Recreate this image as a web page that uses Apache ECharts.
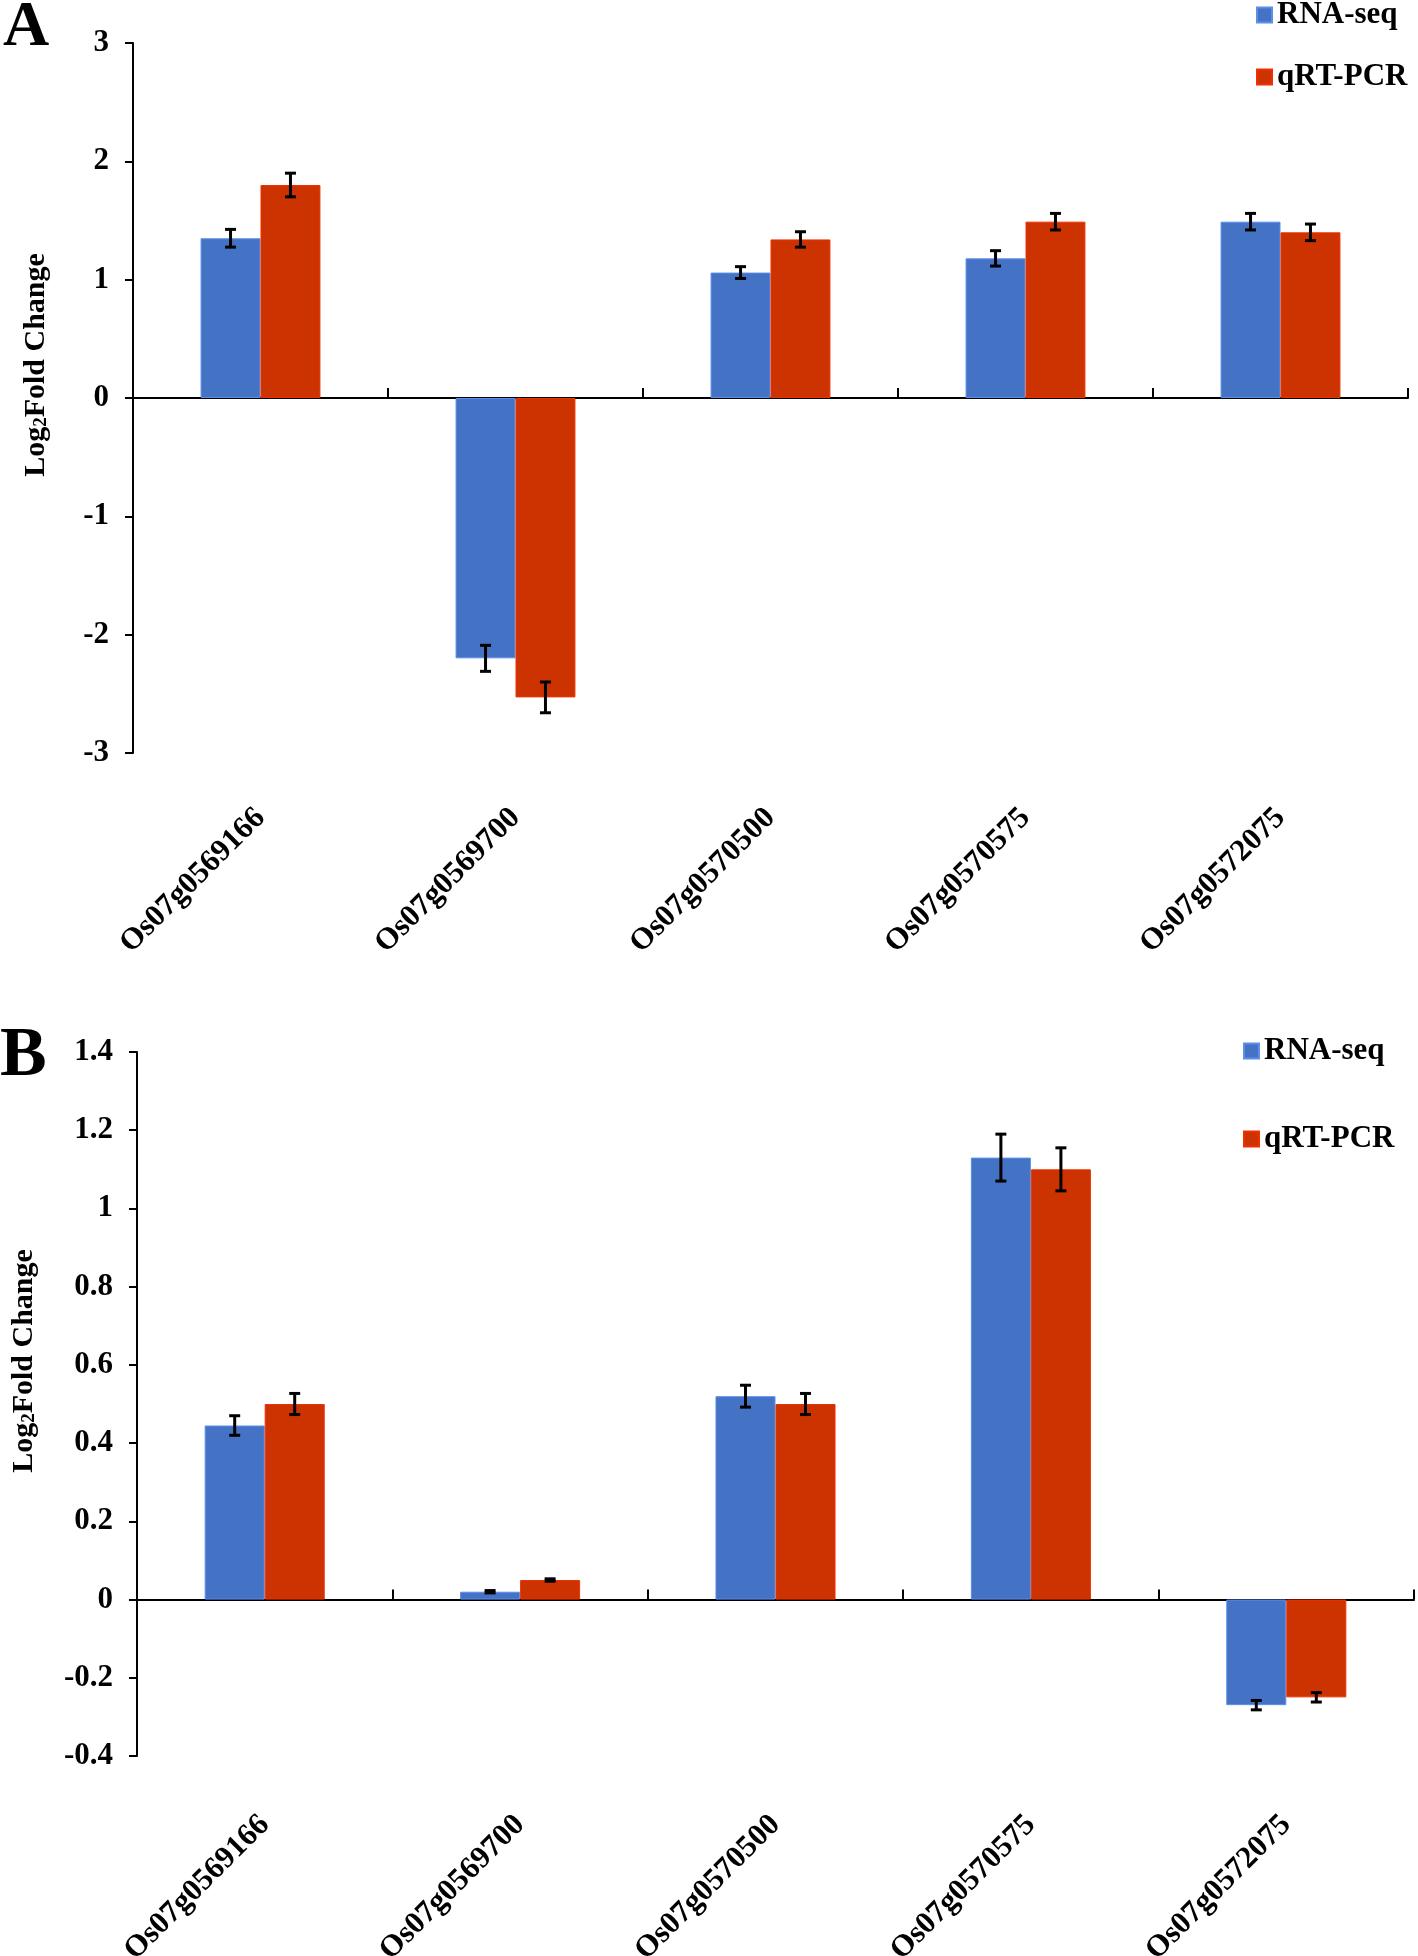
<!DOCTYPE html>
<html lang="en">
<head>
	<meta charset="UTF-8">
	<title>RNA-seq vs qRT-PCR</title>
	<style type="text/css">
	body,html{
		width: 100%;
		height: 100%;
		margin: 0;
		padding: 0;
		background: #fff;
	}
	#container{
		width: 1418px;
		height: 1956px;
	}
	</style>
</head>
<body>
	<div id="container"></div>
<script type="text/javascript" src="https://cdn.jsdelivr.net/npm/echarts@6/dist/echarts.min.js"></script>
<script type="text/javascript">
	// genes, same in both panels
	var genes = ['Os07g0569166', 'Os07g0569700', 'Os07g0570500', 'Os07g0570575', 'Os07g0572075'];
	var seriesNames = ['RNA-seq', 'qRT-PCR'];

	// panel A
	var rnaA = [1.35, -2.2, 1.06, 1.18, 1.49];
	var rnaErrA = [0.075, 0.11, 0.05, 0.065, 0.07];
	var pcrA = [1.8, -2.53, 1.34, 1.49, 1.4];
	var pcrErrA = [0.1, 0.13, 0.065, 0.07, 0.07];
	var ticksA = [-3, 3, 1];   // min, max, interval

	// panel B
	var rnaB = [0.445, 0.02, 0.52, 1.13, -0.27];
	var rnaErrB = [0.025, 0.003, 0.028, 0.06, 0.012];
	var pcrB = [0.5, 0.05, 0.5, 1.1, -0.25];
	var pcrErrB = [0.027, 0.003, 0.027, 0.055, 0.012];
	var ticksB = [-0.4, 1.4, 0.2];

	var FONT = 'Liberation Serif';
	var BLUE = '#4472C4', RED = '#CC3300';
	var GAP = 0.53; // category gap ratio

	var txt = function (size) {
		return { fontFamily: FONT, fontWeight: 'bold', fontSize: size, color: '#000' };
	};

	// error bars drawn at the centre of each bar of the group
	var errorRender = function (side) {
		return function (params, api) {
			var cat = api.value(0);
			var lo = api.coord([cat, api.value(1)]);
			var hi = api.coord([cat, api.value(2)]);
			var band = api.size([1, 0])[0];
			var barW = band * (1 - GAP) / 2;
			var x = lo[0] + side * barW / 2;
			var cap = 5.5;
			var st = { stroke: '#000', lineWidth: 3 };
			return {
				type: 'group',
				children: [
					{ type: 'line', shape: { x1: x, y1: lo[1], x2: x, y2: hi[1] }, style: st },
					{ type: 'line', shape: { x1: x - cap, y1: lo[1], x2: x + cap, y2: lo[1] }, style: st },
					{ type: 'line', shape: { x1: x - cap, y1: hi[1], x2: x + cap, y2: hi[1] }, style: st }
				]
			};
		};
	};

	var errData = function (v, e) {
		return v.map(function (d, i) { return [i, d - e[i], d + e[i]]; });
	};

	var yName = {
		name: '{b|Log}{s|2}{b|Fold Change}',
		nameLocation: 'middle',
		nameRotate: 90,
		nameTextStyle: {
			rich: {
				b: txt(30),
				s: { fontFamily: FONT, fontWeight: 'bold', fontSize: 19, color: '#000', verticalAlign: 'bottom', lineHeight: 13 }
			}
		}
	};

	var makeY = function (idx, t, gap, pad) {
		return Object.assign({}, yName, {
			gridIndex: idx,
			type: 'value',
			min: t[0], max: t[1], interval: t[2],
			nameGap: gap,
			nameTextStyle: Object.assign({}, yName.nameTextStyle, { padding: [0, 0, 0, pad] }),
			axisLine: { show: true, lineStyle: { color: '#000', width: 2 } },
			axisTick: { show: true, length: 8, lineStyle: { color: '#000', width: 2 } },
			splitLine: { show: false },
			axisLabel: Object.assign(txt(31), { margin: 24 })
		});
	};

	// line on zero with upward ticks
	var zeroX = function (idx) {
		return {
			gridIndex: idx, type: 'category', data: genes, position: 'bottom',
			axisLine: { show: true, onZero: true, lineStyle: { color: '#000', width: 2 } },
			axisTick: { show: true, inside: true, length: 10, lineStyle: { color: '#000', width: 2 } },
			axisLabel: { show: false }
		};
	};
	// labels at the bottom of the grid
	var labelX = function (idx, margin) {
		return {
			gridIndex: idx, type: 'category', data: genes, position: 'bottom',
			axisLine: { show: false, onZero: false },
			axisTick: { show: false },
			axisLabel: Object.assign(txt(31), { rotate: 45, interval: 0, margin: margin })
		};
	};

	var bar = function (name, data, color, border, xi, yi) {
		return {
			name: name, type: 'bar', data: data,
			xAxisIndex: xi, yAxisIndex: yi,
			barGap: '0%', barCategoryGap: (GAP * 100) + '%',
			itemStyle: { color: color, borderColor: border, borderWidth: 1 }
		};
	};
	var err = function (side, data, xi, yi) {
		return {
			type: 'custom', renderItem: errorRender(side), data: data,
			xAxisIndex: xi, yAxisIndex: yi, z: 10,
			encode: { x: 0, y: [1, 2] }
		};
	};

	var legendStyle = {
		orient: 'vertical', icon: 'rect', itemWidth: 15, itemHeight: 15,
		textStyle: Object.assign(txt(31), { lineHeight: 32 }),
		itemGap: 30, padding: 0, selectedMode: false
	};

	var option = {
		animation: false,
		backgroundColor: '#fff',
		title: [
			{ text: 'A', left: 3, top: -4, padding: 0, textStyle: txt(64) },
			{ text: 'B', left: 0, top: 1022, padding: 0, textStyle: txt(70) }
		],
		legend: [
			Object.assign({}, legendStyle, { left: 1256, top: -1, data: seriesNames }),
			Object.assign({}, legendStyle, { left: 1243, top: 1035, itemGap: 56, data: seriesNames })
		],
		grid: [
			{ left: 133, top: 43, width: 1275, height: 710, containLabel: false, outerBoundsMode: 'none' },
			{ left: 137, top: 1052, width: 1277, height: 704, containLabel: false, outerBoundsMode: 'none' }
		],
		xAxis: [zeroX(0), labelX(0, 60), zeroX(1), labelX(1, 64)],
		yAxis: [makeY(0, ticksA, 82, 66), makeY(1, ticksB, 98, 86)],
		series: [
			bar(seriesNames[0], rnaA, BLUE, '#5B8FE8', 0, 0),
			bar(seriesNames[1], pcrA, RED, '#F03000', 0, 0),
			err(-1, errData(rnaA, rnaErrA), 0, 0),
			err(1, errData(pcrA, pcrErrA), 0, 0),
			bar(seriesNames[0], rnaB, BLUE, '#5B8FE8', 2, 1),
			bar(seriesNames[1], pcrB, RED, '#F03000', 2, 1),
			err(-1, errData(rnaB, rnaErrB), 2, 1),
			err(1, errData(pcrB, pcrErrB), 2, 1)
		]
	};

	var chart = echarts.init(document.getElementById('container'));
	chart.setOption(option);
	window.addEventListener('resize', function () {
		chart.resize();
	});
</script>
</body>
</html>
